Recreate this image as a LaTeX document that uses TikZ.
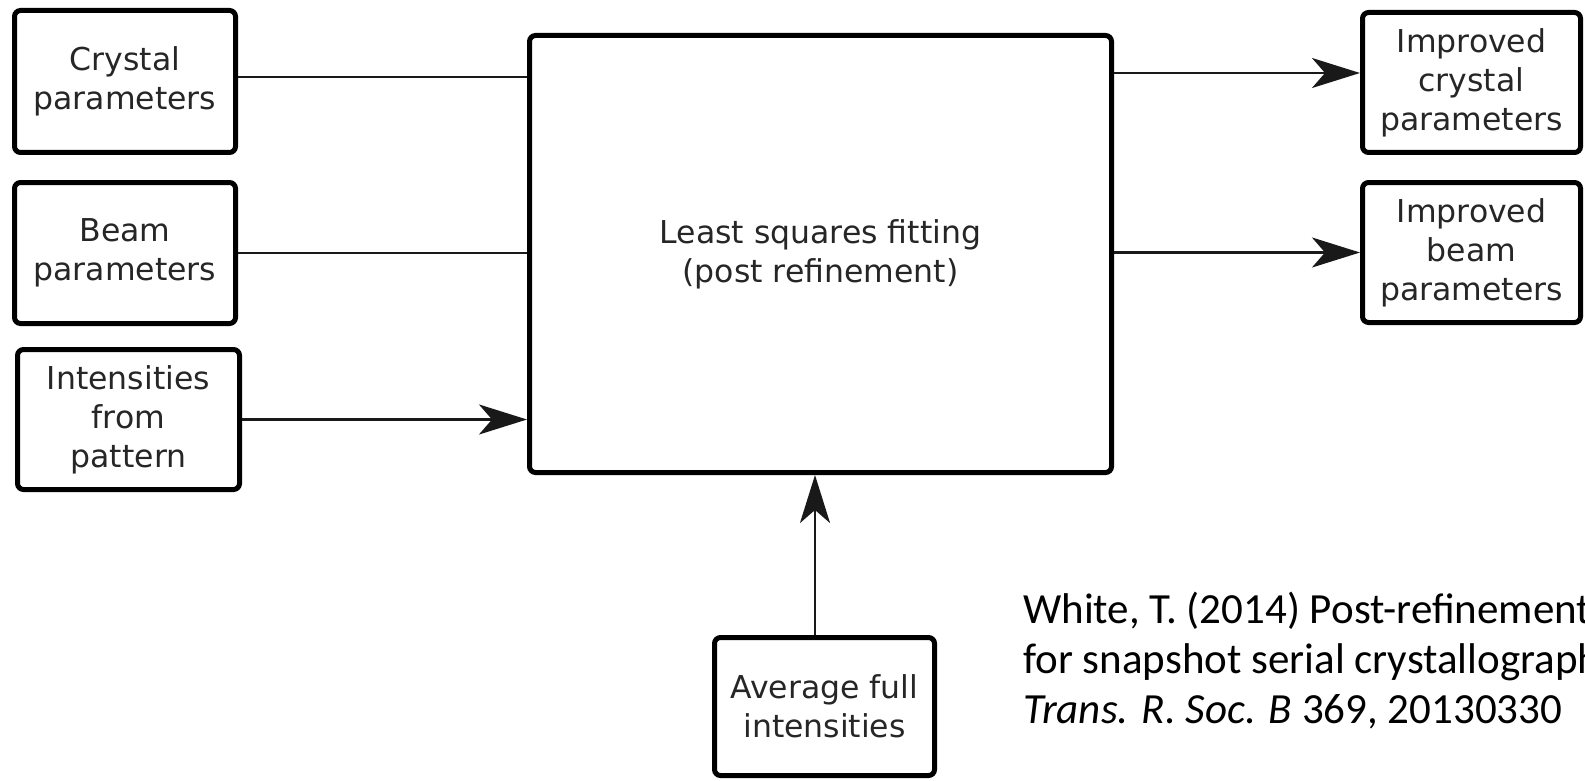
\documentclass[tikz,border=0pt]{standalone}
\usepackage{fontspec}
\setmainfont{DejaVu Sans}
\newfontfamily\citefont{Carlito}
\usetikzlibrary{arrows.meta}
\tikzset{
  blk/.style={draw=black, line width=5pt, rounded corners=6pt, fill=white,
    align=center, inner sep=0pt, text=black!85,
    font=\fontsize{31.5}{39}\selectfont},
  conn/.style={draw=black!90, line width=2.6pt},
  arr/.style={conn, -{Stealth[length=48pt,width=30pt,inset=13pt]}},
}
\begin{document}
\begin{tikzpicture}[x=1pt,y=-1pt]
\useasboundingbox (0,0) rectangle (1585,781);
\node[blk, minimum width=221pt, minimum height=142pt] (crys) at (125,81.5) {Crystal\\parameters};
\node[blk, minimum width=221pt, minimum height=141pt] (beam) at (125,253) {Beam\\parameters};
\node[blk, minimum width=222pt, minimum height=140pt] (inten) at (128.5,419.5) {Intensities\\from\\pattern};
\node[blk, minimum width=582pt, minimum height=437pt] (main) at (820.5,254) {Least squares fitting\\(post refinement)};
\node[blk, minimum width=218pt, minimum height=140pt] (impc) at (1471.5,82.5) {Improved\\crystal\\parameters};
\node[blk, minimum width=218pt, minimum height=140pt] (impb) at (1471.5,252.5) {Improved\\beam\\parameters};
\node[blk, minimum width=220pt, minimum height=138pt] (avg) at (824.5,706.5) {Average full\\intensities};

\draw[conn] ([yshift=4.5pt]crys.east) -- ([yshift=4.5pt]crys.east -| main.west);
\draw[conn] (beam.east) -- (beam.east -| main.west);
\draw[arr] (inten.east) -- (inten.east -| main.west);
\draw[arr] ([yshift=9.5pt]impc.west -| main.east) -- ([yshift=9.5pt]impc.west);
\draw[arr] (impb.west -| main.east) -- (impb.west);
\draw[arr] ([xshift=-9.5pt]avg.north) -- ([xshift=-9.5pt]avg.north |- main.south);

\node[anchor=base west, align=left, inner sep=0pt, text=black,
  font=\citefont\fontsize{43}{50}\selectfont] (cite) at (1023,723)
  {White, T. (2014) Post-refinement\\for snapshot serial crystallograph\\\textit{Trans. R. Soc. B} 369, 20130330};
\end{tikzpicture}
\end{document}
